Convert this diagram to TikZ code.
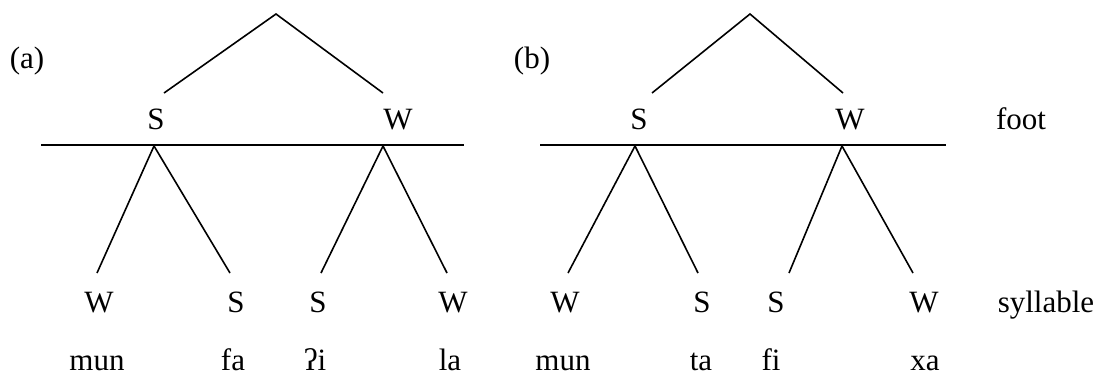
\documentclass[tikz,border=0pt]{standalone}
\usepackage{fontspec}
\setmainfont{Liberation Serif}
\begin{document}
\begin{tikzpicture}[x=1pt,y=-1pt,
  lbl/.style={anchor=base,inner sep=0pt,font=\fontsize{31}{36}\selectfont},
  br/.style={line width=1.6pt}]
\useasboundingbox (0,0) rectangle (1099,376);
% ---------- (a) ----------
\node[lbl] (la) at (27,68) {(a)};
\coordinate (aTop) at (276,14);
\coordinate (aSe) at (164,93);
\coordinate (aWe) at (383,93);
\node[lbl] (aS) at (156,129) {S};
\node[lbl] (aW) at (398,129) {W};
\coordinate (aH1) at (41,145);
\coordinate (aH2) at (464,145);
\coordinate (aL) at (154,146);
\coordinate (aR) at (383,146);
\coordinate (a1) at (97,273);
\coordinate (a2) at (230,273);
\coordinate (a3) at (321,273);
\coordinate (a4) at (447,273);
\draw[br] (aSe) -- (aTop) -- (aWe);
\draw[br] (aH1) -- (aH2);
\draw[br] (a1) -- (aL) -- (a2);
\draw[br] (a3) -- (aR) -- (a4);
\node[lbl] (as1) at (99,312) {W};
\node[lbl] (as2) at (236,312) {S};
\node[lbl] (as3) at (318,312) {S};
\node[lbl] (as4) at (453,312) {W};
\node[lbl] (aw1) at (97,370) {mun};
\node[lbl] (aw2) at (233,370) {fa};
\node[lbl] (aw3) at (315,370) {ʔi};
\node[lbl] (aw4) at (450,370) {la};
% ---------- (b) ----------
\node[lbl] (lb) at (532,68) {(b)};
\coordinate (bTop) at (750,14);
\coordinate (bSe) at (652,93);
\coordinate (bWe) at (843,93);
\node[lbl] (bS) at (639,129) {S};
\node[lbl] (bW) at (850,129) {W};
\coordinate (bH1) at (540,145);
\coordinate (bH2) at (946,145);
\coordinate (bL) at (635,146);
\coordinate (bR) at (842,146);
\coordinate (b1) at (568,273);
\coordinate (b2) at (698,273);
\coordinate (b3) at (789,273);
\coordinate (b4) at (913,273);
\draw[br] (bSe) -- (bTop) -- (bWe);
\draw[br] (bH1) -- (bH2);
\draw[br] (b1) -- (bL) -- (b2);
\draw[br] (b3) -- (bR) -- (b4);
\node[lbl] (bs1) at (565,312) {W};
\node[lbl] (bs2) at (702,312) {S};
\node[lbl] (bs3) at (776,312) {S};
\node[lbl] (bs4) at (924,312) {W};
\node[lbl] (bw1) at (563,370) {mun};
\node[lbl] (bw2) at (701,370) {ta};
\node[lbl] (bw3) at (771,370) {fi};
\node[lbl] (bw4) at (925,370) {xa};
% ---------- level labels ----------
\node[lbl] (foot) at (1021,129) {foot};
\node[lbl] (syl) at (1046,312) {syllable};
\end{tikzpicture}
\end{document}
